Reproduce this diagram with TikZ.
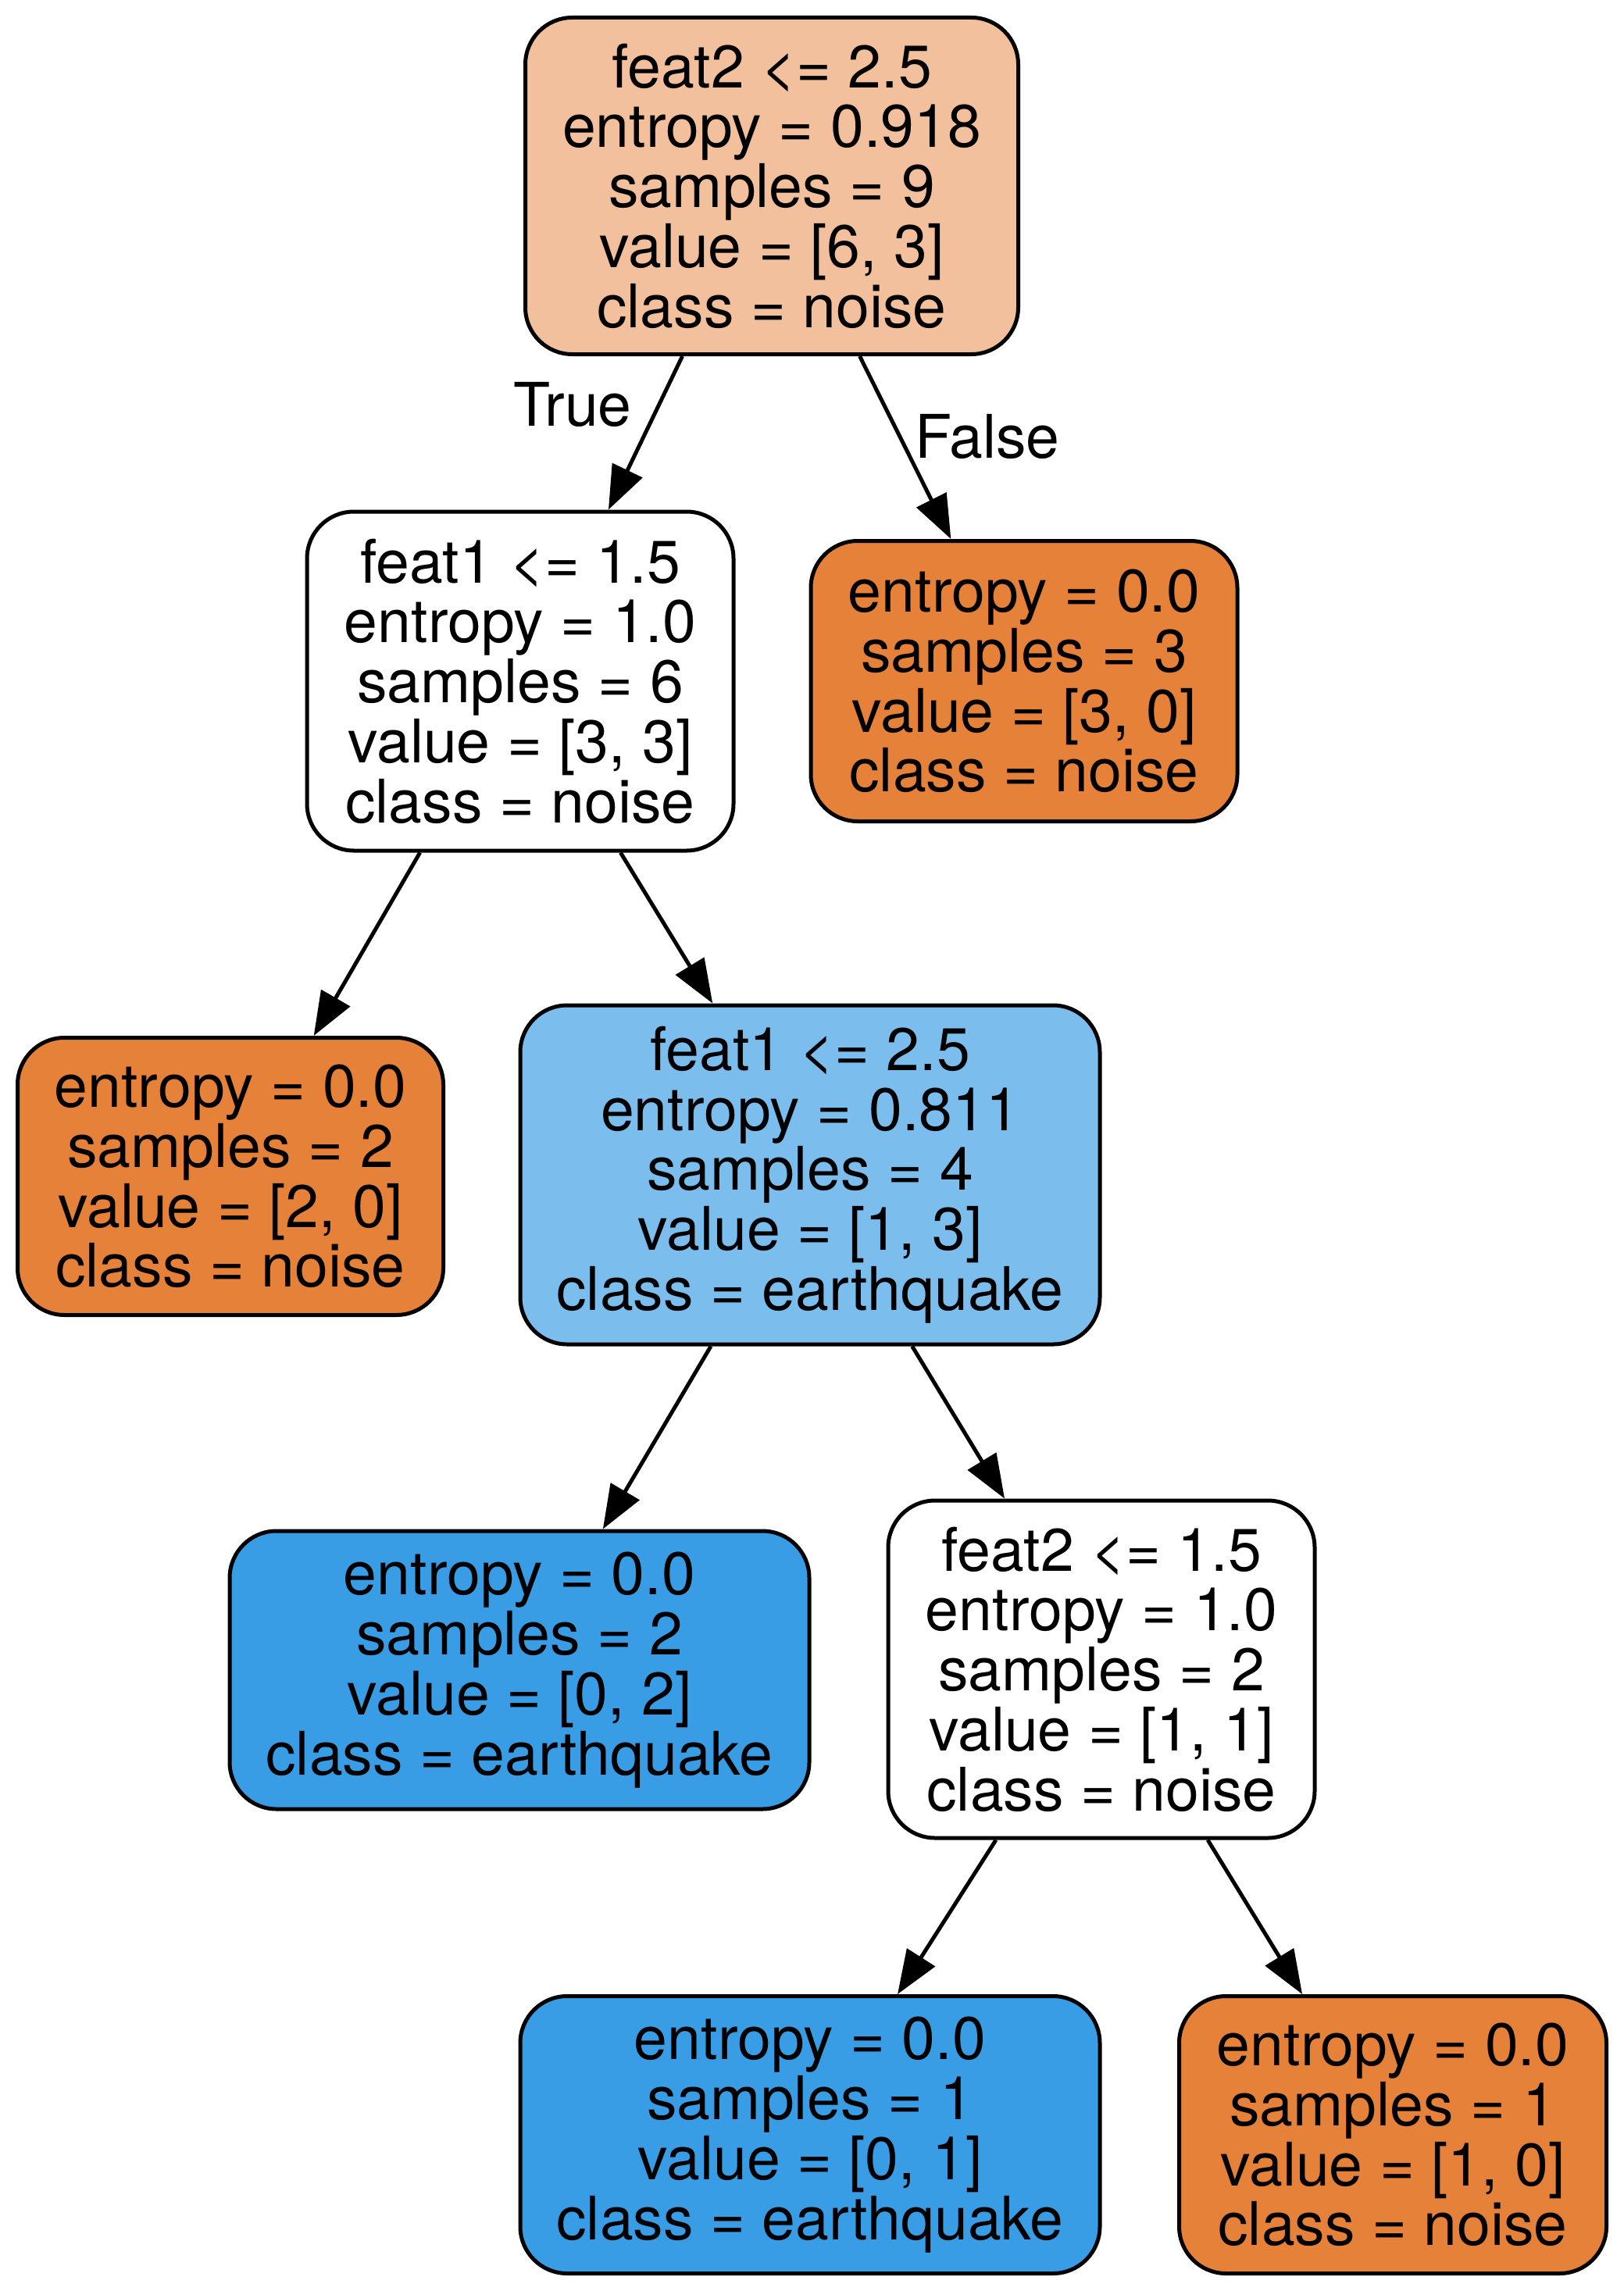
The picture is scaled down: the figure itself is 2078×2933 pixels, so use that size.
\documentclass[tikz,border=0pt]{standalone}
\usepackage{fontspec}
\setmainfont{TeX Gyre Heros}
\usetikzlibrary{arrows.meta,calc}
\definecolor{rootc}{HTML}{F2C09C}
\definecolor{orangec}{HTML}{E58139}
\definecolor{lblue}{HTML}{7BBEEE}
\definecolor{dblue}{HTML}{399DE5}
\begin{document}
\begin{tikzpicture}[x=0.5pt,y=-0.5pt,
  txt/.style={font=\fontsize{38.5pt}{38.4pt}\selectfont},
  tn/.style={txt, draw=black, line width=2.5pt, rounded corners=30pt, align=center, inner sep=0pt},
  edge/.style={line width=2.5pt, -{Triangle[length=28pt,width=21pt]}}]
\useasboundingbox (0,0) rectangle (2078,2933);
\node[tn, fill=rootc, minimum width=315.5pt, minimum height=215.5pt] (root) at (988,238)
  {feat2 <= 2.5\\entropy = 0.918\\samples = 9\\value = [6, 3]\\class = noise};
\node[tn, fill=white, minimum width=273pt, minimum height=217pt] (n1) at (666,872)
  {feat1 <= 1.5\\entropy = 1.0\\samples = 6\\value = [3, 3]\\class = noise};
\node[tn, fill=orangec, minimum width=273pt, minimum height=179.5pt] (n2) at (1311,872)
  {entropy = 0.0\\samples = 3\\value = [3, 0]\\class = noise};
\node[tn, fill=orangec, minimum width=272.5pt, minimum height=177.5pt] (n3) at (295,1506)
  {entropy = 0.0\\samples = 2\\value = [2, 0]\\class = noise};
\node[tn, fill=lblue, minimum width=371pt, minimum height=217pt] (n4) at (1037,1504)
  {feat1 <= 2.5\\entropy = 0.811\\samples = 4\\value = [1, 3]\\class = earthquake};
\node[tn, fill=dblue, minimum width=371pt, minimum height=178pt] (n5) at (665,2138)
  {entropy = 0.0\\samples = 2\\value = [0, 2]\\class = earthquake};
\node[tn, fill=white, minimum width=273pt, minimum height=216pt] (n6) at (1410,2137)
  {feat2 <= 1.5\\entropy = 1.0\\samples = 2\\value = [1, 1]\\class = noise};
\node[tn, fill=dblue, minimum width=371pt, minimum height=177.5pt] (n7) at (1037,2733)
  {entropy = 0.0\\samples = 1\\value = [0, 1]\\class = earthquake};
\node[tn, fill=orangec, minimum width=273.5pt, minimum height=177.5pt] (n8) at (1783,2733)
  {entropy = 0.0\\samples = 1\\value = [1, 0]\\class = noise};

\draw[edge] ($(root.south west)!0.32!(root.south east)$) -- ($(n1.north west)!0.705!(n1.north east)$);
\draw[edge] ($(root.south west)!0.677!(root.south east)$) -- ($(n2.north west)!0.33!(n2.north east)$);
\draw[edge] ($(n1.south west)!0.267!(n1.south east)$) -- ($(n3.north west)!0.694!(n3.north east)$);
\draw[edge] ($(n1.south west)!0.733!(n1.south east)$) -- ($(n4.north west)!0.333!(n4.north east)$);
\draw[edge] ($(n4.south west)!0.33!(n4.south east)$) -- ($(n5.north west)!0.643!(n5.north east)$);
\draw[edge] ($(n4.south west)!0.675!(n4.south east)$) -- ($(n6.north west)!0.275!(n6.north east)$);
\draw[edge] ($(n6.south west)!0.255!(n6.south east)$) -- ($(n7.north west)!0.65!(n7.north east)$);
\draw[edge] ($(n6.south west)!0.747!(n6.south east)$) -- ($(n8.north west)!0.29!(n8.north east)$);

\node[txt] (tl) at (733,518) {True};
\node[txt] (fl) at (1264,559) {False};
\end{tikzpicture}
\end{document}
